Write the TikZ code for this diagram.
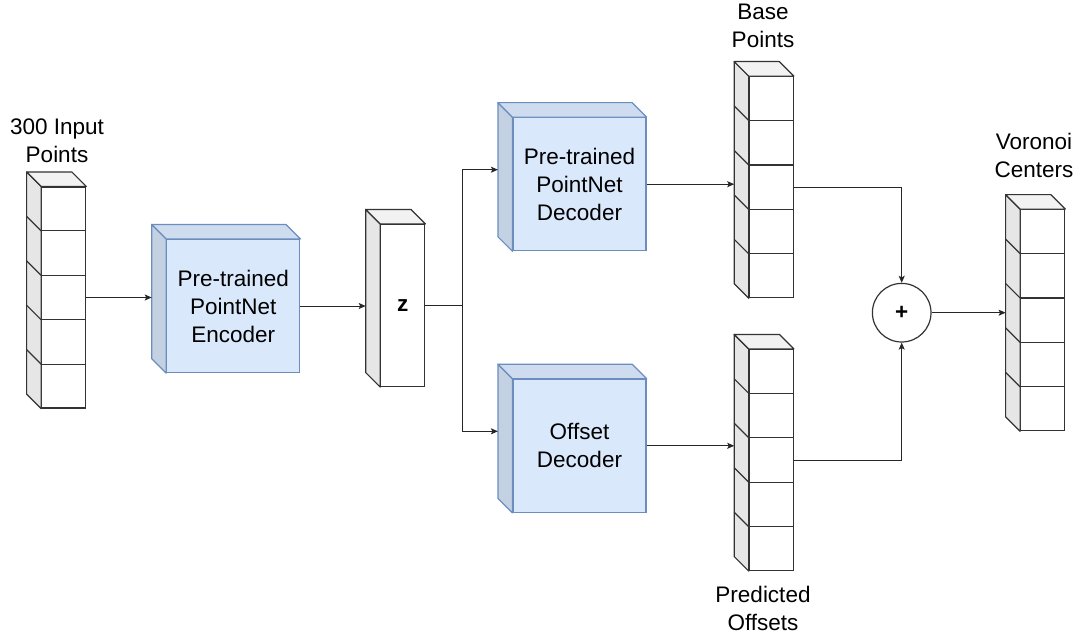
\documentclass[tikz,border=0pt]{standalone}
\usepackage{fontspec}
\setmainfont{Liberation Sans}
\usepackage{tikz}
\usetikzlibrary{calc,arrows.meta,positioning}

\definecolor{boxfill}{HTML}{DAE8FC}
\definecolor{boxedge}{HTML}{6C8EBF}
\definecolor{boxside}{HTML}{C4D1E3}
\definecolor{boxtop}{HTML}{CFDCEF}
\definecolor{colside}{HTML}{E6E6E6}
\definecolor{coltop}{HTML}{F2F2F2}
\definecolor{coledge}{HTML}{333333}

\newcommand{\cubedepth}{14.5}
% side and top faces behind a front node #1
\newcommand{\cubefaces}[4]{%
\path[fill=#2,draw=#4,line width=1.2pt,line join=round] (#1.north west) -- ++(-\cubedepth,-\cubedepth) -- ($(#1.south west)+(-\cubedepth,-\cubedepth)$) -- (#1.south west) -- cycle;
\path[fill=#3,draw=#4,line width=1.2pt,line join=round] (#1.north west) -- ++(-\cubedepth,-\cubedepth) -- ($(#1.north east)+(-\cubedepth,-\cubedepth)$) -- (#1.north east) -- cycle;
\coordinate (#1-side) at ($(#1.west)+(-\cubedepth,-\cubedepth)$);
}
% five cells of a point column
\newcommand{\cells}[1]{%
\foreach \k in {1,...,4} {
\draw[coledge,line width=1.2pt] ($(#1.north west)!\k/5!(#1.south west)$) coordinate (#1-c\k) -- ($(#1.north east)!\k/5!(#1.south east)$);
\draw[coledge,line width=1.2pt] (#1-c\k) -- ++(-\cubedepth,-\cubedepth);
}
}

\tikzset{
  net/.style={rectangle,fill=boxfill,draw=boxedge,line width=1.2pt,minimum width=133pt,minimum height=133pt,align=center,font=\fontsize{22.5}{28}\selectfont,inner sep=0pt},
  column/.style={rectangle,fill=white,draw=coledge,line width=1.2pt,minimum width=44pt,minimum height=221pt,inner sep=0pt},
  lbl/.style={align=center,font=\fontsize{22.5}{28}\selectfont},
  conn/.style={draw=black!85,line width=1pt,-{Stealth[length=7pt,width=6pt,inset=1.5pt]}}
}

\begin{document}
\begin{tikzpicture}[x=1pt,y=-1pt]
\useasboundingbox (0,0) rectangle (1081,634);

% input points
\node[column] (inp) at (63.7,297.5) {};
\cubefaces{inp}{colside}{coltop}{coledge}
\cells{inp}
\node[lbl] (inplbl) at (57,141) {300 Input\\Points};

% encoder and latent code
\node[net] (enc) at (233.3,306) {Pre-trained\\PointNet\\Encoder};
\cubefaces{enc}{boxside}{boxtop}{boxedge}
\node[column,minimum height=162pt,font=\fontsize{22.5}{28}\selectfont\bfseries] (z) at (402.8,305.5) {z};
\cubefaces{z}{colside}{coltop}{coledge}

% two decoders
\node[net] (dec) at (579.5,184.2) {Pre-trained\\PointNet\\Decoder};
\cubefaces{dec}{boxside}{boxtop}{boxedge}
\node[net] (off) at (579.5,445.8) {Offset\\Decoder};
\cubefaces{off}{boxside}{boxtop}{boxedge}

% outputs of the decoders
\node[column] (base) at (771.3,187.2) {};
\cubefaces{base}{colside}{coltop}{coledge}
\cells{base}
\node[lbl] (baselbl) at (763,26) {Base\\Points};
\node[column] (pred) at (771.3,460) {};
\cubefaces{pred}{colside}{coltop}{coledge}
\cells{pred}
\node[lbl] (predlbl) at (763,608) {Predicted\\Offsets};

% sum and result
\node[circle,draw=coledge,line width=1.2pt,minimum size=58.6pt,inner sep=0pt,font=\fontsize{22.5}{28}\selectfont\bfseries] (plus) at (901.7,312.7) {+};
\node[column] (vor) at (1042.7,320.2) {};
\cubefaces{vor}{colside}{coltop}{coledge}
\cells{vor}
\node[lbl] (vorlbl) at (1034,155) {Voronoi\\Centers};

% connectors
\draw[conn] (inp.east) -- (inp.east -| enc-side);
\draw[conn] (enc.east) -- (enc.east -| z-side);
\coordinate (split) at ($(z.east)+(37,0)$);
\draw[draw=black!85,line width=1pt] (z.east) -- (split);
\draw[conn] (split) |- (dec-side);
\draw[conn] (split) |- (off-side);
\draw[conn] (dec.east) -- (dec.east -| base-side);
\draw[conn] (off.east) -- (off.east -| pred-side);
\draw[conn] (base.east) -| (plus.north);
\draw[conn] (pred.east) -| (plus.south);
\draw[conn] (plus.east) -- (plus.east -| vor-side);
\end{tikzpicture}
\end{document}
